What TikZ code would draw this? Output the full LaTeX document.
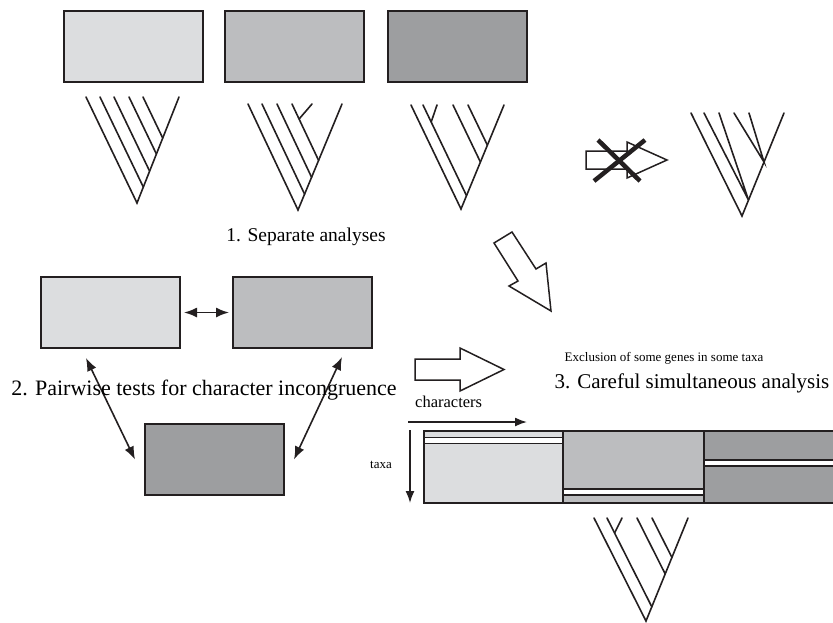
\documentclass[tikz,border=0pt]{standalone}
\usepackage{fontspec}
\setmainfont{Liberation Serif}
\usetikzlibrary{arrows.meta}
\definecolor{gA}{RGB}{220,221,223}
\definecolor{gB}{RGB}{188,189,191}
\definecolor{gC}{RGB}{157,158,160}
\definecolor{ink}{RGB}{35,31,32}
\begin{document}
\begin{tikzpicture}[x=1pt,y=-1pt,
  box/.style={draw=ink,line width=2pt,minimum width=139pt,minimum height=71pt,inner sep=0pt,anchor=north west},
  tree/.style={draw=ink,line width=1.6pt,line cap=round},
  blockarrow/.style={draw=ink,line width=1.5pt,fill=white,line join=miter},
  dbl/.style={draw=ink,line width=1.6pt,{Latex[length=13pt,width=10pt]}-{Latex[length=13pt,width=10pt]}},
  sgl/.style={draw=ink,line width=1.6pt,-{Latex[length=12pt,width=9pt]}},
  big/.style={font=\fontsize{20}{24}\selectfont,inner sep=0pt},
  small/.style={font=\fontsize{13}{15}\selectfont,inner sep=0pt}]
\useasboundingbox (0,0) rectangle (833,622);

% top boxes
\node[box,fill=gA] (r1) at (63,10) {};
\node[box,fill=gB] (r2) at (224,10) {};
\node[box,fill=gC] (r3) at (387,10) {};

% tree 1
\draw[tree] (86,97) -- (137,203) -- (179,97);
\draw[tree] (100,97) -- (143.3,187.0);
\draw[tree] (114,97) -- (149.6,171.1);
\draw[tree] (129,97) -- (156.4,154.0);
\draw[tree] (143,97) -- (162.7,138.0);

% tree 2
\draw[tree] (248,104) -- (298,210) -- (342,104);
\draw[tree] (262,104) -- (304.6,194.2);
\draw[tree] (277,104) -- (311.6,177.3);
\draw[tree] (292,104) -- (318.6,160.4);
\draw[tree] (312,104) -- (299.1,119);

% tree 3
\draw[tree] (411,105) -- (461,209) -- (504,105);
\draw[tree] (423,105) -- (466.5,195.6);
\draw[tree] (437,105) -- (431.2,122);
\draw[tree] (453,105) -- (480.4,162.0);
\draw[tree] (468,105) -- (487.4,145.2);

% crossed arrow
\draw[blockarrow] (586,151) -- (627,151) -- (627,142) -- (667,160) -- (627,178) -- (627,169) -- (586,169) -- cycle;
\draw[ink,line width=4.5pt] (598,140) -- (640,181);
\draw[ink,line width=4.5pt] (645,140) -- (594,181);

% tree 4
\draw[tree] (691,113) -- (742,216) -- (784,113);
\draw[tree] (704,113) -- (748.5,200) -- (719,113);
\draw[tree] (734,113) -- (764,162) -- (749,113);

\node[big,font=\fontsize{19.5}{24}\selectfont] (t1) at (306,237) {1. Separate analyses};

% down block arrow
\draw[blockarrow] (494,243) -- (512,232) -- (536,269) -- (546,263) -- (551,311) -- (509,286) -- (518,281) -- cycle;

% pairwise boxes
\node[box,fill=gA] (a) at (40,276) {};
\node[box,fill=gB] (b) at (232,276) {};
\node[box,fill=gC] (c) at (144,423) {};
\draw[dbl] ([xshift=3pt]a.east) -- ([xshift=-3pt]b.west);
\draw[dbl] (86,358) -- ([xshift=-9pt]c.west);
\draw[dbl] (342,357) -- ([xshift=9pt]c.east);

\node[big,font=\fontsize{22}{26}\selectfont] (t2) at (204,390) {2. Pairwise tests for character incongruence};

% right block arrow
\draw[blockarrow] (415,359) -- (460,359) -- (460,348) -- (504,369.5) -- (460,391) -- (460,380) -- (415,380) -- cycle;

\node[small] (ex) at (664,358) {Exclusion of some genes in some taxa};
\node[big,font=\fontsize{21}{25}\selectfont] (t3) at (692,383) {3. Careful simultaneous analysis};

% matrix
\node[small,font=\fontsize{16.5}{19}\selectfont,anchor=west] (ch) at (415,402) {characters};
\coordinate (chs) at (408,422);
\coordinate (che) at (527,422);
\draw[sgl] (chs) -- (che);
\node[small] (tx) at (381,465) {taxa};
\coordinate (txs) at (410,430);
\coordinate (txe) at (410,503);
\draw[sgl] (txs) -- (txe);

\fill[gA] (424,431) rectangle (563,503);
\fill[gB] (563,431) rectangle (704,503);
\fill[gC] (704,431) rectangle (840,503);
\filldraw[fill=white,draw=ink,line width=1.4pt] (424,437.5) rectangle (563,443.5);
\filldraw[fill=white,draw=ink,line width=1.4pt] (563,489) rectangle (704,495);
\filldraw[fill=white,draw=ink,line width=1.4pt] (704,460) rectangle (840,466);
\draw[ink,line width=2pt] (424,431) rectangle (840,503);
\draw[ink,line width=2pt] (563,431) -- (563,503);
\draw[ink,line width=2pt] (704,431) -- (704,503);

% bottom tree
\draw[tree] (594,518) -- (646,621) -- (688,518);
\draw[tree] (607,518) -- (651.8,606.8);
\draw[tree] (622,518) -- (614.6,533);
\draw[tree] (637,518) -- (665.2,573.9);
\draw[tree] (652,518) -- (671.9,557.4);
\end{tikzpicture}
\end{document}
